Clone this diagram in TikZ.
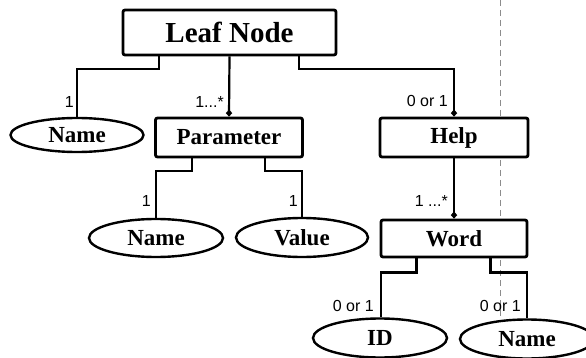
\documentclass[tikz,border=0pt]{standalone}
\usepackage{fontspec}
\setmainfont{Liberation Serif}
\newfontfamily\lblfont{Liberation Sans}
\usetikzlibrary{arrows.meta,shapes.geometric}
\tikzset{
  entity/.style={draw, fill=white, line width=2.8pt, rounded corners=2pt,
    minimum height=39pt, inner sep=0pt, font=\bfseries\fontsize{23}{25}\selectfont},
  attr/.style={draw, fill=white, ellipse, line width=2.4pt, inner sep=0pt,
    minimum width=134pt, minimum height=37pt, font=\bfseries\fontsize{23}{25}\selectfont},
  link/.style={line width=2.2pt},
  agg/.style={link, -{Diamond[length=7pt,width=6.5pt]}},
  card/.style={inner sep=0pt, anchor=east, font=\lblfont\fontsize{16}{17}\selectfont},
  guide/.style={draw=black!45, line width=0.8pt, dash pattern=on 6pt off 4pt},
}
\begin{document}
\begin{tikzpicture}[x=1pt, y=-1pt, shape=rectangle]
\useasboundingbox (0,0) rectangle (586,358);
\fill[white] (0,0) rectangle (586,358);

% fold line behind the diagram
\coordinate (gtop) at (500,0);
\coordinate (gbot) at (500,320);
\draw[guide] (gtop) -- (gbot);

% entities
\node[entity, minimum width=213pt, minimum height=45pt,
      font=\bfseries\fontsize{29}{31}\selectfont] (leaf) at (229.5,32.5) {Leaf Node};
\node[entity, minimum width=147pt] (param) at (229,137.5) {Parameter};
\node[entity, minimum width=148pt] (help) at (454,137.5) {Help};
\node[entity, minimum width=146pt, minimum height=37pt] (word) at (454,238.5) {Word};

% attributes
\node[attr, minimum width=133pt, minimum height=34pt] (lname) at (77,135) {Name};
\node[attr, minimum height=38pt] (pname) at (156,238) {Name};
\node[attr, minimum width=132pt, minimum height=39pt] (pvalue) at (302,237.5) {Value};
\node[attr, minimum height=39pt] (wid) at (380,338) {ID};
\node[attr, minimum height=39pt] (wname) at (527,339) {Name};

% Leaf Node links
\draw[link] (leaf.south) ++(-70.5,0) -- ++(0,13) -| (lname.north);
\draw[agg] (leaf.south) -- (param.north);
\draw[agg] (leaf.south) ++(69.5,0) -- ++(0,13) -| (help.north);

% Parameter links
\draw[link] (param.south) ++(-37,0) -- ++(0,13) -| (pname.north);
\draw[link] (param.south) ++(36,0) -- ++(0,13) -| (pvalue.north);

% Help link
\draw[agg] (help.south) -- (word.north);

% Word links
\draw[link] (word.south) ++(-37.5,0) -- ++(0,14) -| ([xshift=1pt]wid.north);
\draw[link] (word.south) ++(36.5,0) -- ++(0,14) -| (wname.north);

% cardinalities
\node[card] (c1) at (74,102) {1};
\node[card] (c2) at (224,102) {1...*};
\node[card] (c3) at (448,101) {0 or 1};
\node[card] (c4) at (151,201) {1};
\node[card] (c5) at (298,201) {1};
\node[card] (c6) at (448,201) {1 ...*};
\node[card] (c7) at (374,306) {0 or 1};
\node[card] (c8) at (521,306) {0 or 1};
\end{tikzpicture}
\end{document}
